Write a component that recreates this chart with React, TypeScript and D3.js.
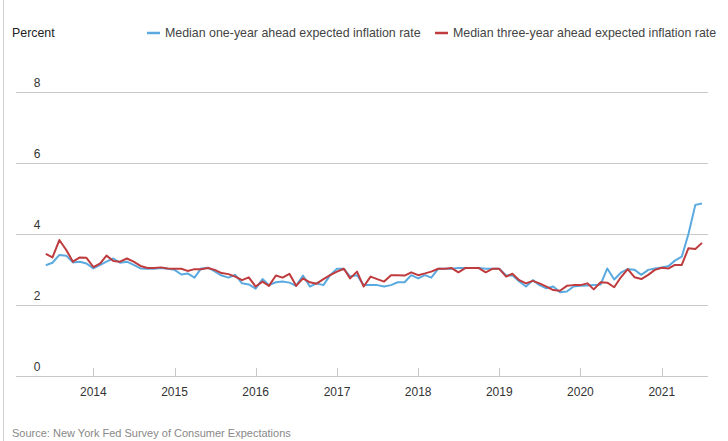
import React, { useRef, useEffect } from 'react';
import * as d3 from 'd3';

// monthly, June 2013 .. July 2021
const startMonth = new Date(2013, 5, 1);

const oneYear = [
  3.12, 3.19, 3.41, 3.39, 3.20, 3.22, 3.17, 3.03, 3.13, 3.22, 3.31, 3.19,
  3.22, 3.13, 3.03, 3.02, 3.02, 3.04, 3.02, 2.99, 2.86, 2.89, 2.77, 3.03,
  3.05, 2.95, 2.83, 2.77, 2.85, 2.61, 2.58, 2.46, 2.73, 2.56, 2.64, 2.66,
  2.63, 2.54, 2.83, 2.52, 2.61, 2.56, 2.84, 3.02, 3.02, 2.80, 2.84, 2.56,
  2.56, 2.56, 2.52, 2.56, 2.64, 2.64, 2.84, 2.75, 2.84, 2.77, 3.02, 3.02,
  3.02, 3.04, 3.04, 3.04, 3.04, 3.02, 3.02, 3.02, 2.83, 2.84, 2.66, 2.52,
  2.70, 2.56, 2.47, 2.52, 2.36, 2.38, 2.52, 2.54, 2.55, 2.56, 2.58, 3.03,
  2.72, 2.91, 3.01, 2.99, 2.85, 2.99, 3.03, 3.06, 3.10, 3.25, 3.36, 4.00,
  4.82, 4.86,
];

const threeYear = [
  3.44, 3.34, 3.83, 3.55, 3.22, 3.34, 3.33, 3.07, 3.17, 3.39, 3.24, 3.22,
  3.31, 3.22, 3.10, 3.04, 3.04, 3.06, 3.03, 3.02, 3.02, 2.96, 3.01, 3.01,
  3.04, 2.99, 2.90, 2.87, 2.80, 2.70, 2.78, 2.52, 2.66, 2.54, 2.83, 2.77,
  2.88, 2.54, 2.75, 2.64, 2.60, 2.73, 2.84, 2.94, 3.02, 2.75, 2.94, 2.52,
  2.80, 2.73, 2.66, 2.84, 2.84, 2.83, 2.92, 2.84, 2.89, 2.94, 3.02, 3.02,
  3.04, 2.92, 3.04, 3.04, 3.04, 2.92, 3.02, 3.02, 2.80, 2.88, 2.70, 2.61,
  2.68, 2.61, 2.52, 2.42, 2.40, 2.54, 2.56, 2.56, 2.61, 2.44, 2.64, 2.63,
  2.50, 2.78, 3.01, 2.78, 2.73, 2.85, 2.99, 3.05, 3.03, 3.13, 3.13, 3.60,
  3.58, 3.75,
];

const yTicks = [0, 2, 4, 6, 8];
const xTickYears = [2014, 2015, 2016, 2017, 2018, 2019, 2020, 2021];

const seriesNames = [
  'Median one-year ahead expected inflation rate',
  'Median three-year ahead expected inflation rate',
];
const seriesColors = ['#5aaae0', '#bf3b3d'];

const W = 728;
const H = 441;
const FONT = '"Liberation Sans", Arial, sans-serif';

const App: React.FC = () => {
  const svgRef = useRef<SVGSVGElement>(null);

  useEffect(() => {
    if (!svgRef.current) return;
    const svg = d3.select(svgRef.current);
    svg.selectAll('*').remove();

    const dates = oneYear.map((_, i) => d3.timeMonth.offset(startMonth, i));

    const x = d3.scaleTime()
      .domain([dates[0], dates[dates.length - 1]])
      .range([45.8, 702]);
    const y = d3.scaleLinear().domain([0, 8]).range([376, 92]);

    // left frame edge
    svg.append('line')
      .attr('x1', 3.5).attr('x2', 3.5).attr('y1', 0).attr('y2', H)
      .attr('stroke', '#d0d0d0');

    // grid
    const grid = svg.append('g');
    grid.selectAll('line')
      .data(yTicks)
      .enter().append('line')
      .attr('x1', 16).attr('x2', 708)
      .attr('y1', d => Math.round(y(d)) + 0.5)
      .attr('y2', d => Math.round(y(d)) + 0.5)
      .attr('stroke', '#c8c8c8');
    grid.selectAll('text')
      .data(yTicks)
      .enter().append('text')
      .attr('x', 37)
      .attr('y', d => y(d) - 5)
      .attr('text-anchor', 'middle')
      .style('font-family', FONT)
      .style('font-size', '12px')
      .attr('fill', '#333')
      .text(d => d);

    // x axis ticks + labels
    const xAxis = svg.append('g');
    xAxis.selectAll('line')
      .data(xTickYears)
      .enter().append('line')
      .attr('x1', d => Math.round(x(new Date(d, 0, 1))) + 0.5)
      .attr('x2', d => Math.round(x(new Date(d, 0, 1))) + 0.5)
      .attr('y1', 376).attr('y2', 368)
      .attr('stroke', '#c8c8c8');
    xAxis.selectAll('text')
      .data(xTickYears)
      .enter().append('text')
      .attr('x', d => x(new Date(d, 0, 1)))
      .attr('y', 396)
      .attr('text-anchor', 'middle')
      .style('font-family', FONT)
      .style('font-size', '12px')
      .attr('fill', '#333')
      .text(d => d);

    // lines
    const line = d3.line<number>()
      .x((_, i) => x(dates[i]))
      .y(d => y(d));

    [oneYear, threeYear].forEach((s, k) => {
      svg.append('path')
        .attr('d', line(s) || '')
        .attr('fill', 'none')
        .attr('stroke', seriesColors[k])
        .attr('stroke-width', 2)
        .attr('stroke-linejoin', 'round');
    });

    // title + legend
    svg.append('text')
      .attr('x', 12).attr('y', 37)
      .style('font-family', FONT)
      .style('font-size', '12.4px')
      .attr('fill', '#222')
      .text('Percent');

    const legendX = [147, 435];
    seriesNames.forEach((name, k) => {
      const g = svg.append('g').attr('transform', `translate(${legendX[k]},33)`);
      g.append('line')
        .attr('x1', 0).attr('x2', 13).attr('y1', 0).attr('y2', 0)
        .attr('stroke', seriesColors[k])
        .attr('stroke-width', 2.5);
      g.append('text')
        .attr('x', 18).attr('y', 4)
        .style('font-family', FONT)
        .style('font-size', '12.4px')
        .attr('fill', '#444')
        .text(name);
    });

    // source
    svg.append('text')
      .attr('x', 12).attr('y', 437)
      .style('font-family', FONT)
      .style('font-size', '11px')
      .attr('fill', '#888')
      .text('Source: New York Fed Survey of Consumer Expectations');
  }, []);

  return (
    <svg
      ref={svgRef}
      width={W}
      height={H}
      style={{ position: 'absolute', left: 0, top: 0, background: '#fff' }}
    />
  );
};

export default App;
